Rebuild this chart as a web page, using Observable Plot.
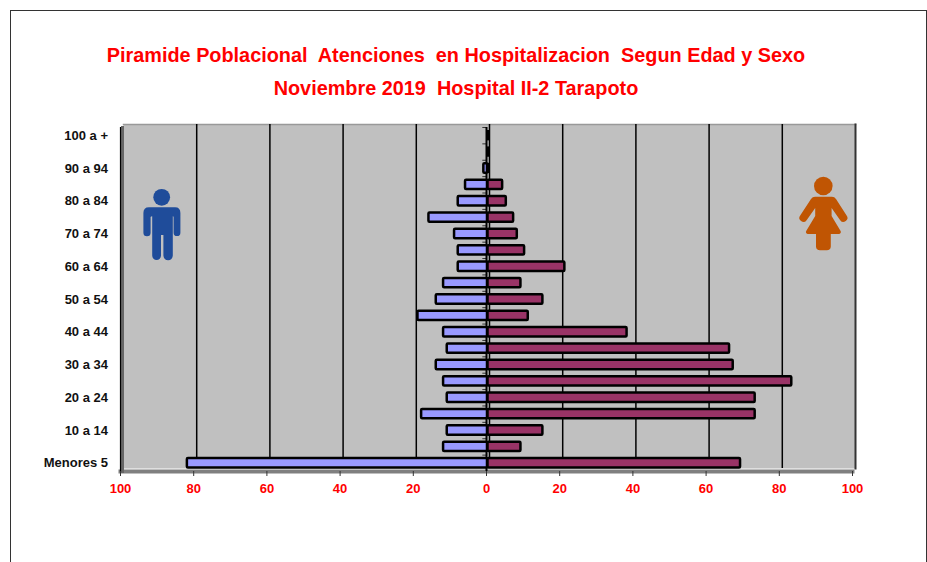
<!DOCTYPE html>
<html lang="es">
<head>
<meta charset="utf-8">
<script src="https://cdn.jsdelivr.net/npm/d3@7"></script>
<script src="https://cdn.jsdelivr.net/npm/@observablehq/plot@0.6"></script>
<style>
html,body{margin:0;padding:0;background:#fff;overflow:hidden;width:927px;height:562px}
#sheet{position:absolute;left:10px;top:10px;width:915px;height:600px;border:1px solid #333;box-sizing:content-box}
#title{position:absolute;left:0;top:0;width:912px;height:110px;text-align:center;color:#ff0000;font:bold 19.85px "Liberation Sans",Arial,sans-serif;white-space:pre}
#title div{position:absolute;left:0;width:100%;line-height:24px}
#chart{position:absolute;left:0;top:110px}
svg{display:block}
</style>
</head>
<body>
<div id="sheet"></div>
<div id="title"><div style="top:43px">Piramide Poblacional  Atenciones  en Hospitalizacion  Segun Edad y Sexo</div><div style="top:76px">Noviembre 2019  Hospital II-2 Tarapoto</div></div>
<div id="chart"></div>
<script>
const ageGroups = ["100 a +","95 a 99","90 a 94","85 a 89","80 a 84","75 a 79","70 a 74","65 a 69","60 a 64","55 a 59","50 a 54","45 a 49","40 a 44","35 a 39","30 a 34","25 a 29","20 a 24","15 a 19","10 a 14","5 a 9","Menores 5"];
const hombres = [0,0,1,6,8,16,9,8,8,12,14,19,12,11,14,12,11,18,11,12,82];
const mujeres = [0,0,0,4,5,7,8,10,21,9,15,11,38,66,67,83,73,73,15,9,69];
const labelledGroups = ageGroups.filter((d, i) => i % 2 === 0);
const xTicks = [-100,-80,-60,-40,-20,0,20,40,60,80,100];

const men = ageGroups.map((g, i) => ({g, v: -hombres[i]}));
const women = ageGroups.map((g, i) => ({g, v: mujeres[i]}));
const font = '"Liberation Sans",Arial,sans-serif';

// Pictograms in the plot's own pixel space (decoration, not data)
function icons() {
  const g = d3.create("svg:g");
  const m = g.append("g").attr("fill", "#1f4c9a").attr("transform", "translate(0,-110)");
  m.append("circle").attr("cx", 161.7).attr("cy", 197.3).attr("r", 8.4);
  m.append("path").attr("d",
    "M149 207.3H175Q180.4 207.3 180.4 213V232.7A3.4 3.4 0 0 1 173.6 232.7V217Q173.6 216.2 172.8 216.2V255.6A4.4 4.4 0 0 1 163.4 255.6V235H161V255.6A4.4 4.4 0 0 1 152.2 255.6V216.2Q151 216.2 150.6 217V232.7A3.6 3.6 0 0 1 143.4 232.7V213Q143.4 207.3 149 207.3Z");
  const f = g.append("g").attr("fill", "#c05503").attr("transform", "translate(0,-110)");
  f.append("circle").attr("cx", 823.3).attr("cy", 186).attr("r", 9.3);
  f.append("path").attr("d",
    "M815 196.7H832Q834.5 196.7 836 199L846.6 215.5A3.9 3.9 0 0 1 840.2 220.2L831.6 208V216L840.6 231A2 2 0 0 1 838.8 234H830.8V246.4A4 4 0 0 1 826.8 250.2H820A4 4 0 0 1 816 246.4V234H808A2 2 0 0 1 806.2 231L815.2 216V208L806.6 220.2A3.9 3.9 0 0 1 800.2 215.5L811 199Q812.5 196.7 815 196.7Z");
  return g.node();
}

const chart = Plot.plot({
  width: 927,
  height: 392,
  marginLeft: 120,
  marginRight: 75,
  marginTop: 17,
  marginBottom: 31,
  style: {fontFamily: font, background: "transparent", overflow: "visible"},
  x: {domain: [-100, 100], label: null},
  y: {domain: ageGroups, padding: 0, round: false, label: null},
  marks: [
    // 3D back wall and its edges
    Plot.frame({fill: "#c0c0c0", stroke: "none", dx: 3, dy: -3}),
    Plot.frame({anchor: "top", stroke: "#999999", strokeWidth: 1.5, dx: 3, dy: -3}),
    Plot.frame({anchor: "right", stroke: "#333333", strokeWidth: 2, dx: 3, dy: -3}),
    Plot.frame({anchor: "bottom", stroke: "#808080", strokeWidth: 4}),
    Plot.frame({anchor: "left", stroke: "#666666", strokeWidth: 3, dx: 2}),
    Plot.frame({anchor: "left", stroke: "#000000", strokeWidth: 1.2}),
    // Gridlines on the back wall
    Plot.ruleX(xTicks.slice(1, -1), {stroke: "#000", strokeWidth: 1.5, strokeOpacity: 1, dx: 3, dy: -3}),
    // Axes
    Plot.axisX(xTicks, {tickSize: 5, stroke: "#333", fill: "none", label: null, tickFormat: () => ""}),
    Plot.axisX(xTicks, {tickSize: 0, tickPadding: 12, fill: "#ff0000", stroke: "none", label: null,
      tickFormat: d => Math.abs(d), fontSize: 13, fontWeight: "bold", textStroke: "none"}),
    Plot.axisY(labelledGroups, {tickSize: 0, tickPadding: 12.5, fill: "#111", label: null,
      fontSize: 13, fontWeight: "bold"}),
    // Tick marks on the central axis
    Plot.ruleY(ageGroups, {y: d => d, x1: -1, x2: 0, stroke: "#333", strokeWidth: 1, dy: -8.2}),
    // Bars
    Plot.ruleX([0], {stroke: "#000", strokeWidth: 2}),
    Plot.barX(men, {x1: 0, x2: "v", y: "g", fill: "#9999ff", stroke: "#000", strokeWidth: 2.5, insetTop: 3.5, insetBottom: 3.5, dx: 1, rx: 1}),
    Plot.barX(women, {x1: 0, x2: "v", y: "g", fill: "#993366", stroke: "#000", strokeWidth: 2.5, insetTop: 3.5, insetBottom: 3.5, dx: 1.5, rx: 1}),
    // Zero-length bars still show their black outline
    Plot.tickX(women.filter(d => d.v === 0), {x: "v", y: "g", stroke: "#000", strokeWidth: 3, insetTop: 3, insetBottom: 3, dx: 1.5}),
    icons
  ]
});
document.getElementById("chart").appendChild(chart);
</script>
</body>
</html>
